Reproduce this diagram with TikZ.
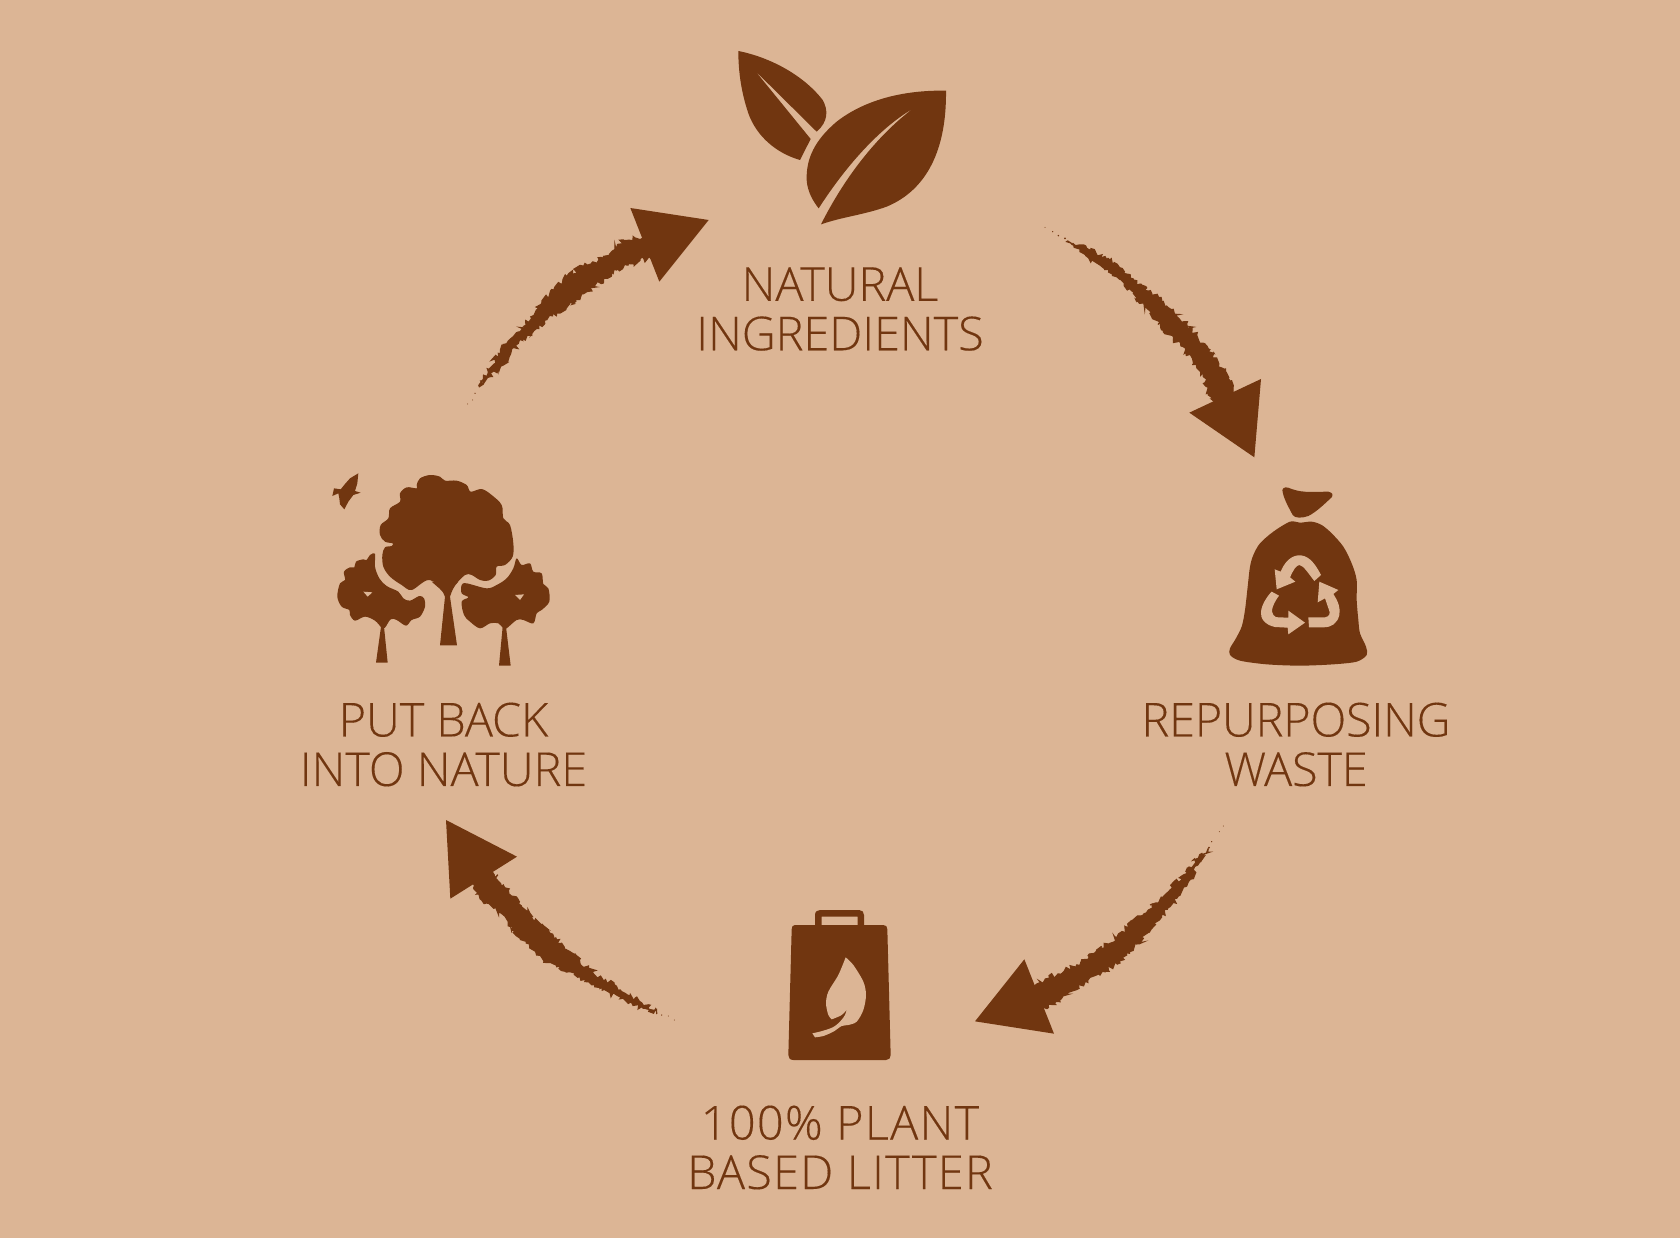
\documentclass[tikz,border=0pt]{standalone}
\usepackage{fontspec}
\setmainfont{Open Sans Light}[FakeBold=0.25]
\usetikzlibrary{decorations.pathmorphing}
\definecolor{bg}{HTML}{DCB595}
\definecolor{ink}{HTML}{713610}
\tikzset{
 brush/.style={fill=ink,draw=ink,line width=1.2pt,decorate,decoration={random steps,segment length=2.3pt,amplitude=2.8pt}},
 lbl/.style={text=ink,font=\fontsize{46.8pt}{49.5pt}\selectfont,align=center,inner sep=0pt},
 zoomed/.style={scale=0.33333}
}
\begin{document}
\begin{tikzpicture}[x=1pt,y=-1pt]
\useasboundingbox (0,0) rectangle (1680,1238);
\fill[bg] (0,0) rectangle (1680,1238);
\pgfmathsetseed{11}

% leaves
\begin{scope}[shift={(720,40)},zoomed]
 \fill[ink] (55,33) .. controls (150,52) and (250,105) .. (308,180) .. controls (325,210) and (325,245) .. (290,275)
   -- (105,92) -- (272,297) -- (240,360)
   .. controls (170,340) and (110,290) .. (85,220) .. controls (65,160) and (55,100) .. (55,33) -- cycle;
 \fill[ink] (678,152) .. controls (560,150) and (440,175) .. (350,245) .. controls (285,300) and (258,355) .. (260,420)
   .. controls (262,455) and (280,485) .. (296,505)
   .. controls (370,390) and (470,270) .. (580,205) .. controls (480,280) and (380,400) .. (303,553)
   .. controls (370,530) and (430,525) .. (500,500) .. controls (620,450) and (680,330) .. (678,152) -- cycle;
\end{scope}

% rubbish bag
\begin{scope}[shift={(1210,480)},zoomed]
 \fill[ink] (217,30) .. controls (220,20) and (230,20) .. (245,27) .. controls (280,40) and (320,35) .. (355,35)
  .. controls (368,38) and (370,45) .. (365,52) .. controls (340,75) and (320,95) .. (295,108)
  .. controls (275,115) and (255,115) .. (248,105) .. controls (235,80) and (220,55) .. (217,30) -- cycle;
 \fill[ink] plot[smooth cycle,tension=0.5] coordinates {(240,125) (190,155) (150,190) (130,225) (120,260) (113,320) (105,390) (95,440) (75,480) (60,505) (60,525) (90,542) (170,553) (270,557) (370,553) (440,545) (470,525) (468,500) (450,460) (445,420) (440,360) (440,300) (425,250) (400,200) (365,160) (335,135) (305,125) (270,128)};
 \fill[bg] (333,285) .. controls (310,240) and (290,225) .. (265,226) .. controls (240,228) and (222,250) .. (212,275)
  -- (194,268) -- (200,328) -- (256,305) -- (240,292) .. controls (250,270) and (258,256) .. (268,255)
  .. controls (280,256) and (295,280) .. (313,303) -- cycle;
 \fill[bg] (328,305) -- (385,330) -- (370,342) .. controls (385,365) and (392,385) .. (388,405)
  .. controls (382,430) and (365,442) .. (340,442) -- (297,442) -- (295,412) -- (345,412)
  .. controls (358,410) and (362,400) .. (357,390) -- (345,355) -- (323,367) -- cycle;
 \fill[bg] (185,335) -- (207,347) .. controls (190,370) and (180,395) .. (190,405) .. controls (195,412) and (200,412) .. (205,412)
  -- (235,413) -- (235,392) -- (285,428) -- (235,463) -- (233,443) -- (195,441)
  .. controls (165,435) and (150,415) .. (153,395) .. controls (155,375) and (170,350) .. (185,335) -- cycle;
\end{scope}

% litter bag
\begin{scope}[shift={(770,900)},zoomed]
 \fill[ink,even odd rule] (135,80) -- (135,45) .. controls (135,35) and (142,30) .. (150,30) -- (268,30)
   .. controls (277,30) and (282,37) .. (282,45) -- (282,80) -- cycle
   (155,80) -- (155,50) -- (263,50) -- (263,80) -- cycle;
 \fill[ink] (75,75) -- (340,75) .. controls (348,75) and (352,80) .. (352,88) -- (362,465)
   .. controls (362,474) and (357,480) .. (348,480) -- (70,480) .. controls (60,480) and (55,474) .. (55,465)
   -- (65,88) .. controls (65,80) and (68,75) .. (75,75) -- cycle;
 \fill[bg] plot[smooth] coordinates {(227,172) (250,195) (280,245) (288,285) (280,330) (260,365) (235,375) (215,378) (190,395) (160,408) (135,412)}
   -- (127,400)
   -- plot[smooth] coordinates {(127,400) (160,392) (195,378) (225,345) (237,292)}
   -- plot[smooth] coordinates {(237,292) (232,325) (215,345) (185,358)}
   -- plot[smooth] coordinates {(185,358) (175,345) (168,310) (175,275) (205,225) (227,172)} -- cycle;
\end{scope}

% trees
\begin{scope}[shift={(320,460)},zoomed]
 % bird
 \fill[ink] (115,40) -- (90,55) -- (75,72) -- (62,88) -- (42,85) -- (37,108) -- (55,100) -- (58,115) -- (60,133) -- (73,148)
   -- (85,125) -- (100,105) -- (122,98) -- (105,93) -- (112,70) -- cycle;
 % left tree
 \fill[ink] plot[smooth cycle,tension=0.55] coordinates {(165,282) (165,320) (178,355) (200,378) (235,395) (250,415) (270,422) (298,408) (312,415) (315,440) (300,470) (275,480) (258,497) (230,480) (212,478) (195,503) (185,503) (165,482) (135,470) (105,482) (90,465) (88,450) (65,440) (52,410) (60,370) (75,360) (72,335) (90,322) (103,322) (108,305) (130,298) (140,300) (150,285)};
 \fill[ink] (183,500) -- (168,608) -- (203,608) -- (192,500) -- cycle;
 \fill[bg] (130,395) -- (157,397) -- (143,410) -- cycle;
 % right tree
 \fill[ink] plot[smooth cycle,tension=0.55] coordinates {(590,295) (605,315) (630,310) (640,335) (665,340) (670,372) (685,385) (688,425) (665,450) (650,460) (640,490) (610,480) (590,480) (560,505) (550,505) (535,490) (510,490) (480,505) (450,485) (432,465) (425,425) (445,412) (425,400) (425,375) (440,370) (500,385) (530,375) (560,355) (580,325)};
 \fill[ink] (548,500) -- (537,617) -- (572,617) -- (558,500) -- cycle;
 \fill[bg] (585,405) -- (612,403) -- (600,420) -- cycle;
 % big tree
 \fill[ink] plot[smooth cycle,tension=0.55] coordinates {(290,75) (300,55) (330,45) (360,50) (375,62) (410,62) (440,75) (452,95) (485,87) (515,105) (545,135) (550,175) (570,195) (580,250) (578,290) (555,315) (530,320) (527,345) (505,362) (480,360) (455,345) (435,345) (400,378) (375,385) (325,360) (275,390) (245,375) (210,350) (190,320) (187,285) (195,262) (215,258) (218,250) (195,245) (180,225) (182,195) (205,175) (210,145) (240,125) (240,100) (260,82) (290,85)};
 \fill[ink] (335,365) .. controls (350,380) and (370,390) .. (375,410) -- (360,556) -- (411,556) -- (390,410) .. controls (395,395) and (400,380) .. (415,365) -- cycle;
\end{scope}

% arrow: natural ingredients -> repurposing waste
\begin{scope}[shift={(1030,210)},zoomed]
 \fill[ink] (693,507) -- (673,742) -- (478,608) -- cycle;
 \fill[brush] (110,95) -- (170,115) -- (240,150) -- (310,210) -- (400,275) -- (470,340) -- (520,400) -- (590,490) -- (625,590)
   -- (560,610) -- (520,500) -- (460,410) -- (430,390) -- (360,310) -- (310,250) -- (260,200) -- (210,165) -- (150,125) -- cycle;
 \fill[ink] (45,52) circle (1.5) (68,65) circle (2) (85,77) circle (2.5) (105,85) circle (3);
\end{scope}

% arrow: repurposing waste -> litter
\begin{scope}[shift={(960,810)},zoomed]
 \fill[ink] (193,448) -- (45,634) -- (282,671) -- cycle;
 \fill[brush] (745,115) -- (715,145) -- (670,195) -- (630,240) -- (565,300) -- (505,350) -- (450,400) -- (410,420) -- (350,465) -- (265,505) -- (195,540)
   -- (220,605) -- (300,575) -- (350,530) -- (420,495) -- (500,435) -- (550,385) -- (600,320) -- (650,265) -- (685,215) -- (725,150) -- cycle;
 \fill[ink] (790,48) circle (1.5) (778,65) circle (1.5) (755,95) circle (2) (747,113) circle (3);
\end{scope}

% arrow: litter -> put back
\begin{scope}[shift={(430,800)},zoomed]
 \fill[ink] (48,60) -- (261,170) -- (61,296) -- cycle;
 \fill[brush] (165,195) -- (235,270) -- (300,340) -- (330,375) -- (420,455) -- (475,505) -- (570,570) -- (680,635)
   -- (640,625) -- (590,605) -- (510,565) -- (450,530) -- (380,500) -- (320,465) -- (255,395) -- (215,340) -- (155,300) -- (115,235) -- cycle;
 \fill[ink] (695,645) circle (2) (715,648) circle (1.5) (733,660) circle (1.5);
\end{scope}

% arrow: put back -> natural ingredients
\begin{scope}[shift={(450,190)},zoomed]
 \fill[ink] (541,54) -- (776,90) -- (628,275) -- cycle;
 \fill[brush] (610,135) -- (520,150) -- (460,205) -- (400,230) -- (350,260) -- (310,300) -- (270,345) -- (245,385) -- (190,440) -- (145,490) -- (115,545) -- (88,590)
   -- (120,560) -- (160,525) -- (205,460) -- (260,415) -- (320,370) -- (410,305) -- (500,240) -- (530,225) -- (630,195) -- cycle;
 \fill[ink] (75,610) circle (2) (68,630) circle (1.5) (53,642) circle (1.5);
\end{scope}

% labels
\node[lbl] (natural) at (840,309) {NATURAL\\INGREDIENTS};
\node[lbl] (repurpose) at (1296,744.5) {\addfontfeatures{LetterSpace=-0.3}REPURPOSING\\\addfontfeatures{LetterSpace=-0.3}WASTE};
\node[lbl] (litter) at (840,1147.5) {\addfontfeatures{LetterSpace=2.8}100\% PLANT\\\addfontfeatures{LetterSpace=2.8}BASED LITTER};
\node[lbl] (putback) at (443.5,744.5) {PUT BACK\\INTO NATURE};
\end{tikzpicture}
\end{document}
